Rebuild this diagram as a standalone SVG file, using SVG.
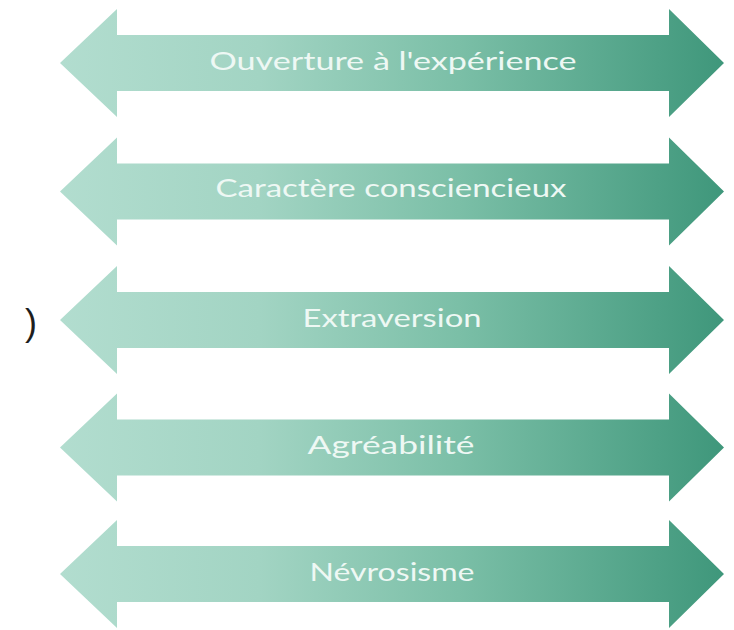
<svg xmlns="http://www.w3.org/2000/svg" xmlns:xlink="http://www.w3.org/1999/xlink" width="734" height="630" viewBox="0 0 734 630">
  <style>
    .arrow { fill: url(#g); }
    .lbl { font-family: "Lato", "Open Sans", "DejaVu Sans", sans-serif; font-size: 25px; fill: #eef8f4; text-anchor: middle; lengthAdjust: spacingAndGlyphs; }
    .side { font-family: "Liberation Sans", sans-serif; font-size: 36px; fill: #1e1e1e; }
  </style>
  <defs>
    <linearGradient id="g" gradientUnits="userSpaceOnUse" x1="60" y1="0" x2="724" y2="0">
      <stop offset="0" stop-color="#b2ddcf"/>
      <stop offset="0.3" stop-color="#a2d4c3"/>
      <stop offset="0.6" stop-color="#7bbfa7"/>
      <stop offset="1" stop-color="#3f977b"/>
    </linearGradient>
    <path id="dbl" d="M60,0 L117,-54 L117,-28 L669,-28 L669,-54 L724,0 L669,54 L669,28 L117,28 L117,54 Z"/>
  </defs>
  <rect width="734" height="630" fill="#ffffff"/>
  <g id="connectors"></g>
  <g id="n1">
    <use xlink:href="#dbl" class="arrow" transform="translate(0,63)"/>
    <text class="lbl" x="393" y="70" textLength="367" lengthAdjust="spacingAndGlyphs">Ouverture à l'expérience</text>
  </g>
  <g id="n2">
    <use xlink:href="#dbl" class="arrow" transform="translate(0,191.5)"/>
    <text class="lbl" x="391" y="197" textLength="351" lengthAdjust="spacingAndGlyphs">Caractère consciencieux</text>
  </g>
  <g id="n3">
    <use xlink:href="#dbl" class="arrow" transform="translate(0,320)"/>
    <text class="lbl" x="392" y="327" textLength="179" lengthAdjust="spacingAndGlyphs">Extraversion</text>
  </g>
  <g id="n4">
    <use xlink:href="#dbl" class="arrow" transform="translate(0,447.5)"/>
    <text class="lbl" x="391" y="454" textLength="167" lengthAdjust="spacingAndGlyphs">Agréabilité</text>
  </g>
  <g id="n5">
    <use xlink:href="#dbl" class="arrow" transform="translate(0,574)"/>
    <text class="lbl" x="392" y="581" textLength="165" lengthAdjust="spacingAndGlyphs">Névrosisme</text>
  </g>
  <g id="side">
    <text class="side" x="25" y="335">)</text>
  </g>
</svg>
